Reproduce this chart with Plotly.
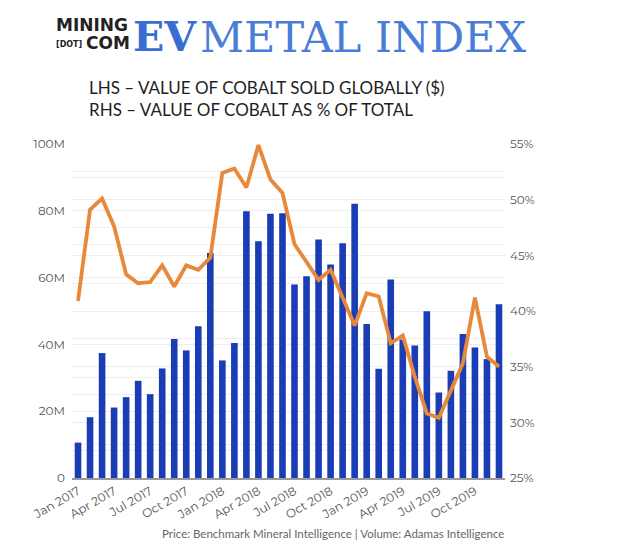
import plotly.graph_objects as go

# ---------------- data ----------------
months = [f"{m} {y}" for y in (2017, 2018, 2019)
          for m in ["Jan", "Feb", "Mar", "Apr", "May", "Jun",
                    "Jul", "Aug", "Sep", "Oct", "Nov", "Dec"]]

cobalt_value_m = [10.6, 18.2, 37.4, 21.1, 24.2, 29.1, 25.1, 32.8, 41.6, 38.2, 45.4, 67.4,
                  35.2, 40.4, 79.9, 70.9, 79.1, 79.3, 57.9, 60.4, 71.4, 63.9, 70.3, 82.1,
                  46.1, 32.7, 59.4, 41.5, 39.7, 49.9, 25.6, 32.1, 43.1, 39.1, 35.6, 52.0]

cobalt_share_pct = [40.9, 49.1, 50.1, 47.6, 43.3, 42.5, 42.6, 44.1, 42.2, 44.1, 43.7, 44.8,
                    52.4, 52.8, 51.1, 54.9, 51.8, 50.6, 46.0, 44.4, 42.8, 43.7, 41.1, 38.7,
                    41.6, 41.3, 37.1, 37.8, 34.1, 30.8, 30.4, 32.9, 35.3, 41.2, 35.9, 35.0]

x_tick_labels = ["Jan 2017", "Apr 2017", "Jul 2017", "Oct 2017",
                 "Jan 2018", "Apr 2018", "Jul 2018", "Oct 2018",
                 "Jan 2019", "Apr 2019", "Jul 2019", "Oct 2019"]
left_ticks = [0, 20e6, 40e6, 60e6, 80e6, 100e6]
left_tick_text = ["0", "20M", "40M", "60M", "80M", "100M"]
right_ticks = [25, 30, 35, 40, 45, 50, 55]
right_tick_text = ["25%", "30%", "35%", "40%", "45%", "50%", "55%"]

title_lines = ["LHS – VALUE OF COBALT SOLD GLOBALLY ($)",
               "RHS – VALUE OF COBALT AS % OF TOTAL"]
source_text = "Price: Benchmark Mineral Intelligence | Volume: Adamas Intelligence"

# ---------------- layout geometry ----------------
# the page body has an 8px default margin, so target pixel positions are offset by -8
OFF = 8
W, H = 640, 554
PL, PR, PT, PB = 72, 505, 144, 478          # target plot box in window pixels
L = PL - OFF
T = PT - OFF
R = W - (PR - OFF)
B = H - (PB - OFF)


def px(x):
    return (x - OFF - L) / (W - L - R)


def py(y):
    return (H - B - (y - OFF)) / (H - T - B)


BAR = "#1a3cb4"
LINE = "#e8893a"
GRID = "#eeeeee"
TICK = "#555555"

fig = go.Figure()
fig.add_trace(go.Bar(x=months, y=[v * 1e6 for v in cobalt_value_m],
                     marker=dict(color=BAR, line=dict(width=0)),
                     yaxis="y", hoverinfo="x+y"))
fig.add_trace(go.Scatter(x=months, y=cobalt_share_pct, mode="lines",
                         line=dict(color=LINE, width=3.8), yaxis="y2"))

axis_font = dict(family="Montserrat, Lato, sans-serif", size=12, color=TICK)

fig.update_layout(
    width=W, height=H,
    margin=dict(l=L, r=R, t=T, b=B, pad=0),
    paper_bgcolor="white", plot_bgcolor="white",
    showlegend=False, bargap=0.45,
    xaxis=dict(type="category", tickmode="array", tickvals=x_tick_labels,
               ticktext=x_tick_labels, tickangle=-30, tickfont=axis_font,
               showgrid=False, showline=True, linecolor="#9a9a9a", linewidth=1.5,
               ticks="", range=[-0.5, 35.5]),
    yaxis=dict(range=[0, 100e6], tickvals=left_ticks, ticktext=left_tick_text,
               tickfont=axis_font, showgrid=True, gridcolor=GRID, gridwidth=1,
               zeroline=False, ticks="", ticklabelstandoff=6,
               minor=dict(tickvals=[10e6, 30e6, 50e6, 70e6, 90e6], showgrid=True,
                          gridcolor=GRID, gridwidth=1)),
    yaxis2=dict(range=[25, 55], tickvals=right_ticks, ticktext=right_tick_text,
                overlaying="y", side="right", tickfont=axis_font,
                showgrid=True, gridcolor=GRID, gridwidth=1, zeroline=False,
                ticks="", ticklabelstandoff=4,
                minor=dict(tickvals=[27.5, 32.5, 37.5, 42.5, 47.5, 52.5],
                           showgrid=True, gridcolor=GRID, gridwidth=1)),
)

ann = []
# logo
ann.append(dict(x=px(54), y=py(25), text="<b>MINING</b>", xanchor="left", yanchor="middle",
                font=dict(family="DejaVu Sans", size=17, color="#222222")))
ann.append(dict(x=px(54), y=py(44), text="<b>[DOT]</b>", xanchor="left", yanchor="middle",
                font=dict(family="DejaVu Sans", size=8, color="#222222")))
ann.append(dict(x=px(84), y=py(43), text="<b>COM</b>", xanchor="left", yanchor="middle",
                font=dict(family="DejaVu Sans", size=17, color="#222222")))
ann.append(dict(x=px(131), y=py(37), text="<b>EV</b>", xanchor="left", yanchor="middle",
                font=dict(family="DejaVu Serif", size=41, color="#3a6dd2")))
ann.append(dict(x=px(198), y=py(37), text="METAL INDEX", xanchor="left", yanchor="middle",
                font=dict(family="DejaVu Serif", size=43, color="#4a7dd6")))
# subtitles
ann.append(dict(x=px(87), y=py(87), text=title_lines[0], xanchor="left", yanchor="middle",
                font=dict(family="Lato, sans-serif", size=17, color="#1e1e1e")))
ann.append(dict(x=px(87), y=py(109), text=title_lines[1], xanchor="left", yanchor="middle",
                font=dict(family="Lato, sans-serif", size=17, color="#1e1e1e")))
# source
ann.append(dict(x=px(333), y=py(533), text=source_text, xanchor="center", yanchor="middle",
                font=dict(family="Lato, sans-serif", size=11.5, color="#666666")))

for a in ann:
    a.update(xref="paper", yref="paper", showarrow=False)
fig.update_layout(annotations=ann)

fig.write_html("out.html")
